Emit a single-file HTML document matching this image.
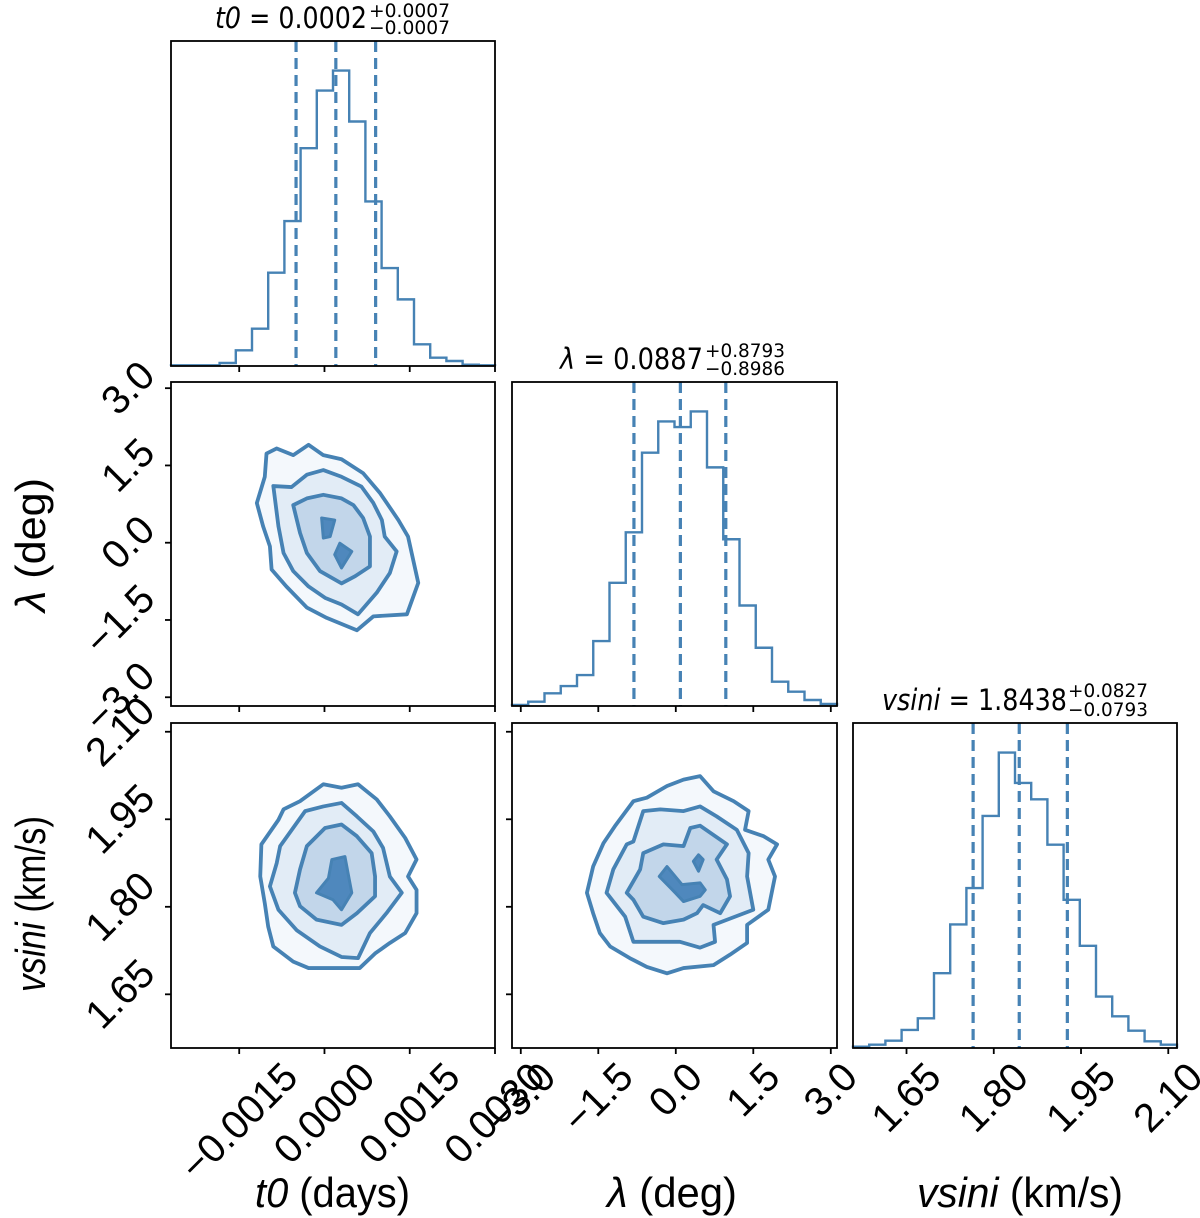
<!DOCTYPE html>
<html><head><meta charset="utf-8"><style>
html,body{margin:0;padding:0;background:#fff;}
svg{display:block;}
</style></head><body>
<svg id="chart" width="1200" height="1218" viewBox="0 0 1200 1218" xmlns="http://www.w3.org/2000/svg">
<defs>
<clipPath id="c10"><rect x="171" y="382" width="324" height="324"/></clipPath>
<clipPath id="c20"><rect x="171" y="723" width="324" height="325"/></clipPath>
<clipPath id="c21"><rect x="512" y="723" width="325" height="325"/></clipPath>
</defs>
<g id="marks"></g>
<g id="frames"></g>
<g id="texts" font-family="'DejaVu Sans', sans-serif" fill="#000">
<text x="215" y="28" font-size="29" textLength="152" lengthAdjust="spacingAndGlyphs"><tspan font-style="italic">t0</tspan> = 0.0002</text>
<text x="369" y="17" font-size="19" textLength="81" lengthAdjust="spacingAndGlyphs">+0.0007</text>
<text x="369" y="34" font-size="19" textLength="81" lengthAdjust="spacingAndGlyphs">−0.0007</text>
<text x="560" y="369" font-size="29" textLength="143" lengthAdjust="spacingAndGlyphs"><tspan font-style="italic">λ</tspan> = 0.0887</text>
<text x="705" y="357" font-size="19" textLength="80" lengthAdjust="spacingAndGlyphs">+0.8793</text>
<text x="705" y="375" font-size="19" textLength="80" lengthAdjust="spacingAndGlyphs">−0.8986</text>
<text x="882" y="710" font-size="29" textLength="185" lengthAdjust="spacingAndGlyphs"><tspan font-style="italic">vsini</tspan> = 1.8438</text>
<text x="1068" y="697" font-size="19" textLength="80" lengthAdjust="spacingAndGlyphs">+0.0827</text>
<text x="1068" y="716" font-size="19" textLength="80" lengthAdjust="spacingAndGlyphs">−0.0793</text>
</g>
<g font-family="'Liberation Sans', Arial, sans-serif" fill="#000" font-size="42">
<text x="255" y="1207" textLength="155" lengthAdjust="spacingAndGlyphs"><tspan font-style="italic">t0</tspan> (days)</text>
<text x="607" y="1207" textLength="130" lengthAdjust="spacingAndGlyphs"><tspan font-style="italic">λ</tspan> (deg)</text>
<text x="917" y="1207" textLength="206" lengthAdjust="spacingAndGlyphs"><tspan font-style="italic">vsini</tspan> (km/s)</text>
<text transform="translate(45,612) rotate(-90)" textLength="134" lengthAdjust="spacingAndGlyphs"><tspan font-style="italic">λ</tspan> (deg)</text>
<text transform="translate(45,992) rotate(-90)" textLength="176" lengthAdjust="spacingAndGlyphs"><tspan font-style="italic">vsini</tspan> (km/s)</text>
</g>
<g id="ticklabels" font-family="'Liberation Sans', Arial, sans-serif" fill="#000" font-size="40"></g>
</svg>
<script>
// ---------- data ----------
const t0Domain = [-0.0027, 0.0030];
const lamDomain = [-3.17, 3.12];
const vsDomain = [1.558, 2.115];
const t0Counts = [2,2,2,9,47,112,280,435,654,827,887,734,494,294,200,65,25,15,4,2];
const lamCounts = [3,13,38,60,93,195,370,522,761,855,838,885,717,501,302,175,73,43,18,6];
const vsCounts = [4,10,22,54,89,224,370,479,695,885,794,745,609,444,306,154,95,52,20,10];
const t0Quantiles = [-0.0005, 0.0002, 0.0009];
const lamQuantiles = [-0.81, 0.0887, 0.968];
const vsQuantiles = [1.7645, 1.8438, 1.9265];
const t0Ticks = [-0.0015, 0.0, 0.0015, 0.0030];
const t0TickLabels = ["−0.0015","0.0000","0.0015","0.0030"];
const lamTicks = [-3.0,-1.5,0.0,1.5,3.0];
const lamTickLabels = ["−3.0","−1.5","0.0","1.5","3.0"];
const vsTicks = [1.65,1.80,1.95,2.10];
const vsTickLabels = ["1.65","1.80","1.95","2.10"];
// contours: t0 values in units of 1e-3 days
const t0LamC1 = [[-1.02,1.73],[-0.84,1.83],[-0.55,1.70],[-0.28,1.90],[-0.02,1.70],[0.30,1.62],[0.68,1.35],[0.98,0.96],[1.30,0.44],[1.47,0.12],[1.65,-0.78],[1.45,-1.39],[0.86,-1.43],[0.57,-1.70],[0.04,-1.46],[-0.31,-1.26],[-0.67,-0.85],[-0.93,-0.52],[-0.96,-0.07],[-1.08,0.32],[-1.19,0.77],[-1.05,1.28]];
const t0LamC2 = [[-0.90,1.10],[-0.58,1.08],[-0.31,1.32],[-0.02,1.41],[0.30,1.28],[0.65,1.09],[0.86,0.77],[1.01,0.44],[1.06,0.12],[1.27,-0.17],[1.15,-0.59],[0.92,-0.97],[0.59,-1.39],[0.30,-1.20],[0.01,-1.07],[-0.28,-0.85],[-0.55,-0.55],[-0.72,-0.20],[-0.81,0.32]];
const t0LamC3 = [[-0.55,0.73],[-0.31,0.86],[-0.02,0.93],[0.30,0.86],[0.51,0.73],[0.68,0.48],[0.80,0.12],[0.80,-0.46],[0.54,-0.65],[0.30,-0.79],[-0.08,-0.55],[-0.31,-0.20],[-0.43,0.19]];
const t0LamC4a = [[-0.05,0.48],[0.18,0.44],[0.10,0.12],[-0.02,0.09]];
const t0LamC4b = [[0.27,-0.01],[0.48,-0.17],[0.30,-0.49],[0.18,-0.23]];
const t0VsC1 = [[-1.11,1.907],[-0.81,1.949],[-0.72,1.967],[-0.43,1.981],[-0.02,2.010],[0.30,2.004],[0.59,2.010],[0.92,1.984],[1.15,1.955],[1.42,1.918],[1.62,1.881],[1.47,1.852],[1.62,1.829],[1.62,1.789],[1.42,1.755],[1.15,1.738],[0.89,1.720],[0.62,1.695],[0.27,1.695],[-0.28,1.695],[-0.55,1.706],[-0.90,1.732],[-0.99,1.766],[-1.05,1.806],[-1.13,1.852]];
const t0VsC2 = [[-0.78,1.904],[-0.34,1.964],[-0.02,1.972],[0.30,1.978],[0.57,1.955],[0.86,1.929],[1.03,1.901],[1.15,1.852],[1.36,1.824],[1.09,1.789],[0.80,1.755],[0.59,1.712],[0.30,1.714],[-0.08,1.732],[-0.49,1.760],[-0.81,1.795],[-0.96,1.835],[-0.84,1.875]];
const t0VsC3 = [[-0.31,1.904],[0.01,1.935],[0.30,1.941],[0.57,1.921],[0.83,1.892],[0.89,1.852],[0.89,1.818],[0.57,1.789],[0.30,1.769],[-0.14,1.778],[-0.43,1.801],[-0.52,1.824],[-0.43,1.864]];
const t0VsC4 = [[0.13,1.881],[0.36,1.886],[0.48,1.824],[0.30,1.795],[0.15,1.812],[-0.14,1.824],[0.07,1.849]];
const lamVsC1 = [[-1.72,1.824],[-1.60,1.869],[-1.40,1.909],[-1.18,1.938],[-0.82,1.981],[-0.56,1.987],[-0.17,2.007],[0.15,2.018],[0.47,2.024],[0.73,1.998],[1.12,1.981],[1.41,1.964],[1.34,1.932],[1.70,1.921],[1.96,1.907],[1.79,1.881],[1.92,1.852],[1.79,1.795],[1.38,1.769],[1.38,1.738],[1.05,1.718],[0.73,1.700],[0.15,1.695],[-0.17,1.686],[-0.56,1.697],[-0.89,1.712],[-1.27,1.732],[-1.47,1.755],[-1.60,1.789]];
const lamVsC2 = [[-1.34,1.824],[-1.21,1.864],[-0.95,1.907],[-0.82,1.912],[-0.63,1.964],[-0.30,1.967],[0.15,1.964],[0.47,1.972],[0.79,1.955],[1.18,1.932],[1.41,1.892],[1.38,1.852],[1.50,1.795],[0.73,1.769],[0.76,1.740],[0.47,1.730],[0.08,1.740],[-0.37,1.740],[-0.82,1.740],[-0.98,1.783]];
const lamVsC3 = [[-0.95,1.824],[-0.69,1.864],[-0.63,1.892],[-0.24,1.907],[0.15,1.904],[0.28,1.935],[0.47,1.939],[0.99,1.907],[0.79,1.881],[0.99,1.847],[1.05,1.818],[0.86,1.789],[0.53,1.803],[0.41,1.789],[0.15,1.778],[-0.24,1.772],[-0.63,1.783],[-0.82,1.812]];
const lamVsC4a = [[-0.32,1.852],[-0.17,1.869],[0.12,1.838],[0.47,1.841],[0.57,1.829],[0.47,1.818],[0.15,1.809],[-0.01,1.824]];
const lamVsC4b = [[0.44,1.889],[0.53,1.881],[0.44,1.861],[0.34,1.878]];

// ---------- scales ----------
const NS='http://www.w3.org/2000/svg';
const COL=[[171,495],[512,837],[853,1177]];
const ROW=[[41,366],[382,706],[723,1048]];
function lin(d,r){return v=>r[0]+(v-d[0])/(d[1]-d[0])*(r[1]-r[0]);}
const xT0=lin(t0Domain,COL[0]), xLam=lin(lamDomain,COL[1]), xVs=lin(vsDomain,COL[2]);
const yLam=lin(lamDomain,[ROW[1][1],ROW[1][0]]), yVs=lin(vsDomain,[ROW[2][1],ROW[2][0]]);
const marks=document.getElementById('marks'), frames=document.getElementById('frames'), tl=document.getElementById('ticklabels');
const BLUE='#4682b4';
function mk(tag,attrs,parent){const e=document.createElementNS(NS,tag);for(const k in attrs)e.setAttribute(k,attrs[k]);(parent||marks).appendChild(e);return e;}

function hist(counts,dom,xs,row,name){
  const y0=ROW[row][0],y1=ROW[row][1];
  const mx=Math.max(...counts)*1.1;
  const n=counts.length,w=(dom[1]-dom[0])/n;
  let d='M'+xs(dom[0])+','+y1;
  counts.forEach((c,i)=>{const y=y1-c/mx*(y1-y0);d+=' L'+xs(dom[0]+i*w)+','+y+' L'+xs(dom[0]+(i+1)*w)+','+y;});
  d+=' L'+xs(dom[1])+','+y1;
  const p=mk('path',{d:d,fill:'none',stroke:BLUE,'stroke-width':2.4});
  
  
}
function qlines(qs,xs,row,name){
  qs.forEach((q,i)=>{
    const l=mk('line',{x1:xs(q),x2:xs(q),y1:ROW[row][0],y2:ROW[row][1],stroke:BLUE,'stroke-width':3.2,'stroke-dasharray':'11,6'});
    
    
  });
}
function poly(pts,xs,ys,xk,fill,clip,name,sw){
  const d='M'+pts.map(p=>xs(p[0]*xk)+','+ys(p[1])).join(' L')+' Z';
  const g=mk('path',{d:d,fill:fill,stroke:BLUE,'stroke-width':sw||3.6,'stroke-linejoin':'round','clip-path':'url(#'+clip+')'});
  
  
}
const F=['#f4f8fc','#e2ecf6','#c2d6ea','#4f88bd'];
function contours(sets,xs,ys,xk,clip,name){
  sets.forEach((s,i)=>s.forEach((pts,j)=>poly(pts,xs,ys,xk,F[i],clip,name+'-contour-'+i+(j?'-'+j:''),i==3?3:3.8)));
}

hist(t0Counts,t0Domain,xT0,0,'t0');
qlines(t0Quantiles,xT0,0,'t0');
hist(lamCounts,lamDomain,xLam,1,'lambda');
qlines(lamQuantiles,xLam,1,'lambda');
hist(vsCounts,vsDomain,xVs,2,'vsini');
qlines(vsQuantiles,xVs,2,'vsini');
contours([[t0LamC1],[t0LamC2],[t0LamC3],[t0LamC4a,t0LamC4b]],xT0,yLam,1e-3,'c10','t0-lambda');
contours([[t0VsC1],[t0VsC2],[t0VsC3],[t0VsC4]],xT0,yVs,1e-3,'c20','t0-vsini');
contours([[lamVsC1],[lamVsC2],[lamVsC3],[lamVsC4a,lamVsC4b]],xLam,yVs,1,'c21','lambda-vsini');

// frames
const panels=[[0,0,'t0-hist-panel'],[1,0,'t0-lambda-panel'],[1,1,'lambda-hist-panel'],[2,0,'t0-vsini-panel'],[2,1,'lambda-vsini-panel'],[2,2,'vsini-hist-panel']];
panels.forEach(p=>{
  const r=mk('rect',{x:COL[p[1]][0],y:ROW[p[0]][0],width:COL[p[1]][1]-COL[p[1]][0],height:ROW[p[0]][1]-ROW[p[0]][0],fill:'none',stroke:'#000','stroke-width':1.8},frames);
  
  
});
// ticks
function xticks(ticks,xs,row){ticks.forEach(t=>{const x=xs(t);const l=mk('line',{x1:x,x2:x,y1:ROW[row][1],y2:ROW[row][1]+6,stroke:'#000','stroke-width':1.8},frames);});}
function yticks(ticks,ys,col){ticks.forEach(t=>{const y=ys(t);const l=mk('line',{x1:COL[col][0]-6,x2:COL[col][0],y1:y,y2:y,stroke:'#000','stroke-width':1.8},frames);});}
xticks(t0Ticks,xT0,0);xticks(t0Ticks,xT0,1);xticks(t0Ticks,xT0,2);
xticks(lamTicks,xLam,1);xticks(lamTicks,xLam,2);
xticks(vsTicks,xVs,2);
yticks(lamTicks,yLam,0);yticks(vsTicks,yVs,0);yticks(vsTicks,yVs,1);
// tick labels
const FS=40;
function rlabel(txt,cx,cy,mode){
  const t=mk('text',{'text-anchor':'middle','dominant-baseline':'central'},tl);
  t.textContent=txt;
  
  
  const L=t.getComputedTextLength();
  const s=(L+0.72*FS)/1.4142;
  let x=cx,y=cy;
  if(mode==='x'){y=cy+s/2;}else{x=cx-s/2;}
  t.setAttribute('transform','translate('+x+','+y+') rotate(-45)');
}
t0Ticks.forEach((t,i)=>rlabel(t0TickLabels[i],xT0(t),1060,'x'));
lamTicks.forEach((t,i)=>rlabel(lamTickLabels[i],xLam(t),1060,'x'));
vsTicks.forEach((t,i)=>rlabel(vsTickLabels[i],xVs(t),1060,'x'));
lamTicks.forEach((t,i)=>rlabel(lamTickLabels[i],158,yLam(t),'y'));
vsTicks.forEach((t,i)=>rlabel(vsTickLabels[i],158,yVs(t),'y'));
</script>
</body></html>
